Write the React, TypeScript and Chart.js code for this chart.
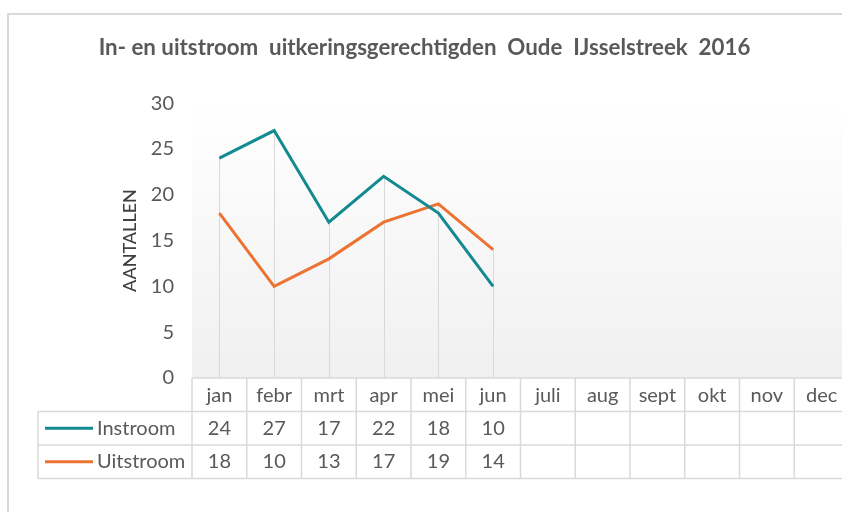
import React, { useEffect, useRef } from "react";
import { Chart, registerables } from "chart.js";

Chart.register(...registerables);

const TITLE = "In- en uitstroom  uitkeringsgerechtigden  Oude  IJsselstreek  2016";
const Y_TITLE = "AANTALLEN";
const MONTHS = ["jan", "febr", "mrt", "apr", "mei", "jun", "juli", "aug", "sept", "okt", "nov", "dec"];
const INSTROOM: (number | null)[] = [24, 27, 17, 22, 18, 10, null, null, null, null, null, null];
const UITSTROOM: (number | null)[] = [18, 10, 13, 17, 19, 14, null, null, null, null, null, null];
const SERIES_NAMES = ["Instroom", "Uitstroom"];
const COLORS = ["#138a8f", "#ec7332"];

const FONT = "Lato, 'Noto Sans', sans-serif";
const TEXT = "#595959";
const GRID = "#d9d9d9";

const ROW_H = 33.5;
const LEGEND_LEFT = 38;

const framePlugin = {
  id: "frame",
  beforeDraw(chart: any) {
    const { ctx, chartArea, width, height } = chart;
    ctx.save();
    ctx.fillStyle = "#ffffff";
    ctx.fillRect(0, 0, width, height);
    ctx.strokeStyle = "#d9d9d9";
    ctx.lineWidth = 2;
    ctx.beginPath();
    ctx.moveTo(8, height);
    ctx.lineTo(8, 14);
    ctx.lineTo(width, 14);
    ctx.stroke();
    const g = ctx.createLinearGradient(0, chartArea.top, 0, chartArea.bottom);
    g.addColorStop(0, "#ffffff");
    g.addColorStop(1, "#f0f0f0");
    ctx.fillStyle = g;
    ctx.fillRect(chartArea.left, chartArea.top, chartArea.right - chartArea.left, chartArea.bottom - chartArea.top);
    ctx.restore();
  },
};

const dropLinesPlugin = {
  id: "dropLines",
  beforeDatasetsDraw(chart: any) {
    const { ctx, chartArea, scales } = chart;
    const x = scales.x;
    const y = scales.y;
    ctx.save();
    ctx.strokeStyle = GRID;
    ctx.lineWidth = 1;
    MONTHS.forEach((_, i) => {
      const vals = [INSTROOM[i], UITSTROOM[i]].filter((v) => v !== null) as number[];
      if (!vals.length) return;
      const px = Math.round(x.getPixelForValue(i)) + 0.5;
      ctx.beginPath();
      ctx.moveTo(px, y.getPixelForValue(Math.max(...vals)));
      ctx.lineTo(px, chartArea.bottom);
      ctx.stroke();
    });
    ctx.restore();
  },
};

const tablePlugin = {
  id: "dataTable",
  afterDraw(chart: any) {
    const { ctx, chartArea, scales, width } = chart;
    const x = scales.x;
    const half = (x.getPixelForValue(1) - x.getPixelForValue(0)) / 2;
    const top = chartArea.bottom;
    const r1 = top + ROW_H;
    const r2 = r1 + ROW_H;
    const r3 = r2 + ROW_H;
    ctx.save();
    ctx.strokeStyle = GRID;
    ctx.lineWidth = 1.5;
    ctx.beginPath();
    ctx.moveTo(chartArea.left, top);
    ctx.lineTo(width, top);
    [r1, r2, r3].forEach((yy) => {
      ctx.moveTo(LEGEND_LEFT, yy);
      ctx.lineTo(width, yy);
    });
    ctx.moveTo(LEGEND_LEFT, r1);
    ctx.lineTo(LEGEND_LEFT, r3);
    for (let i = 0; i <= MONTHS.length; i++) {
      const px = x.getPixelForValue(0) - half + i * half * 2;
      ctx.moveTo(px, top);
      ctx.lineTo(px, r3);
    }
    ctx.stroke();

    const series = [INSTROOM, UITSTROOM];
    ctx.font = `20px ${FONT}`;
    ctx.textBaseline = "middle";
    series.forEach((data, s) => {
      const cy = top + ROW_H * (s + 1.5);
      ctx.strokeStyle = COLORS[s];
      ctx.lineWidth = 3;
      ctx.beginPath();
      ctx.moveTo(45, cy);
      ctx.lineTo(93, cy);
      ctx.stroke();
      ctx.fillStyle = TEXT;
      ctx.textAlign = "left";
      ctx.fillText(SERIES_NAMES[s], 97, cy);
      ctx.textAlign = "center";
      data.forEach((v, i) => {
        if (v === null) return;
        ctx.fillText(String(v), x.getPixelForValue(i), cy);
      });
    });
    ctx.restore();
  },
};

export default function App() {
  const ref = useRef<HTMLCanvasElement | null>(null);
  useEffect(() => {
    if (!ref.current) return;
    const chart = new Chart(ref.current, {
      type: "line",
      data: {
        labels: MONTHS,
        datasets: [
          { label: SERIES_NAMES[0], data: INSTROOM, borderColor: COLORS[0], backgroundColor: COLORS[0], borderWidth: 3, pointRadius: 0, tension: 0, spanGaps: false },
          { label: SERIES_NAMES[1], data: UITSTROOM, borderColor: COLORS[1], backgroundColor: COLORS[1], borderWidth: 3, pointRadius: 0, tension: 0, spanGaps: false },
        ],
      },
      options: {
        animation: false,
        responsive: false,
        maintainAspectRatio: false,
        layout: { padding: { left: 0, right: 0, top: 0, bottom: 0 } },
        plugins: {
          legend: { display: false },
          tooltip: { enabled: false },
          title: {
            display: true,
            text: TITLE,
            color: TEXT,
            font: { family: FONT, size: 22.3, weight: "bold" },
            padding: { top: 34, bottom: 42.3 },
          },
        },
        scales: {
          x: {
            type: "category",
            offset: true,
            grid: { display: false, drawTicks: false },
            border: { display: false },
            ticks: { color: TEXT, font: { family: FONT, size: 20 }, padding: 6, maxRotation: 0, autoSkip: false },
            afterFit(scale: any) {
              scale.height = 134;
            },
          },
          y: {
            min: 0,
            max: 30,
            grid: { display: false, drawTicks: false },
            border: { display: false },
            ticks: { stepSize: 5, color: TEXT, font: { family: FONT, size: 20 }, padding: 18 },
            title: {
              display: true,
              text: Y_TITLE,
              color: "#404040",
              font: { family: FONT, size: 18, weight: "500" },
              padding: { top: 119, bottom: 0 },
            },
            afterFit(scale: any) {
              scale.width = 192;
            },
          },
        },
      },
      plugins: [framePlugin, dropLinesPlugin, tablePlugin],
    });
    return () => chart.destroy();
  }, []);
  return (
    <div style={{ position: "fixed", left: 0, top: 0, width: 842, height: 512, overflow: "hidden", background: "#fff" }}>
      <canvas ref={ref} width={849} height={512} style={{ display: "block" }} />
    </div>
  );
}
